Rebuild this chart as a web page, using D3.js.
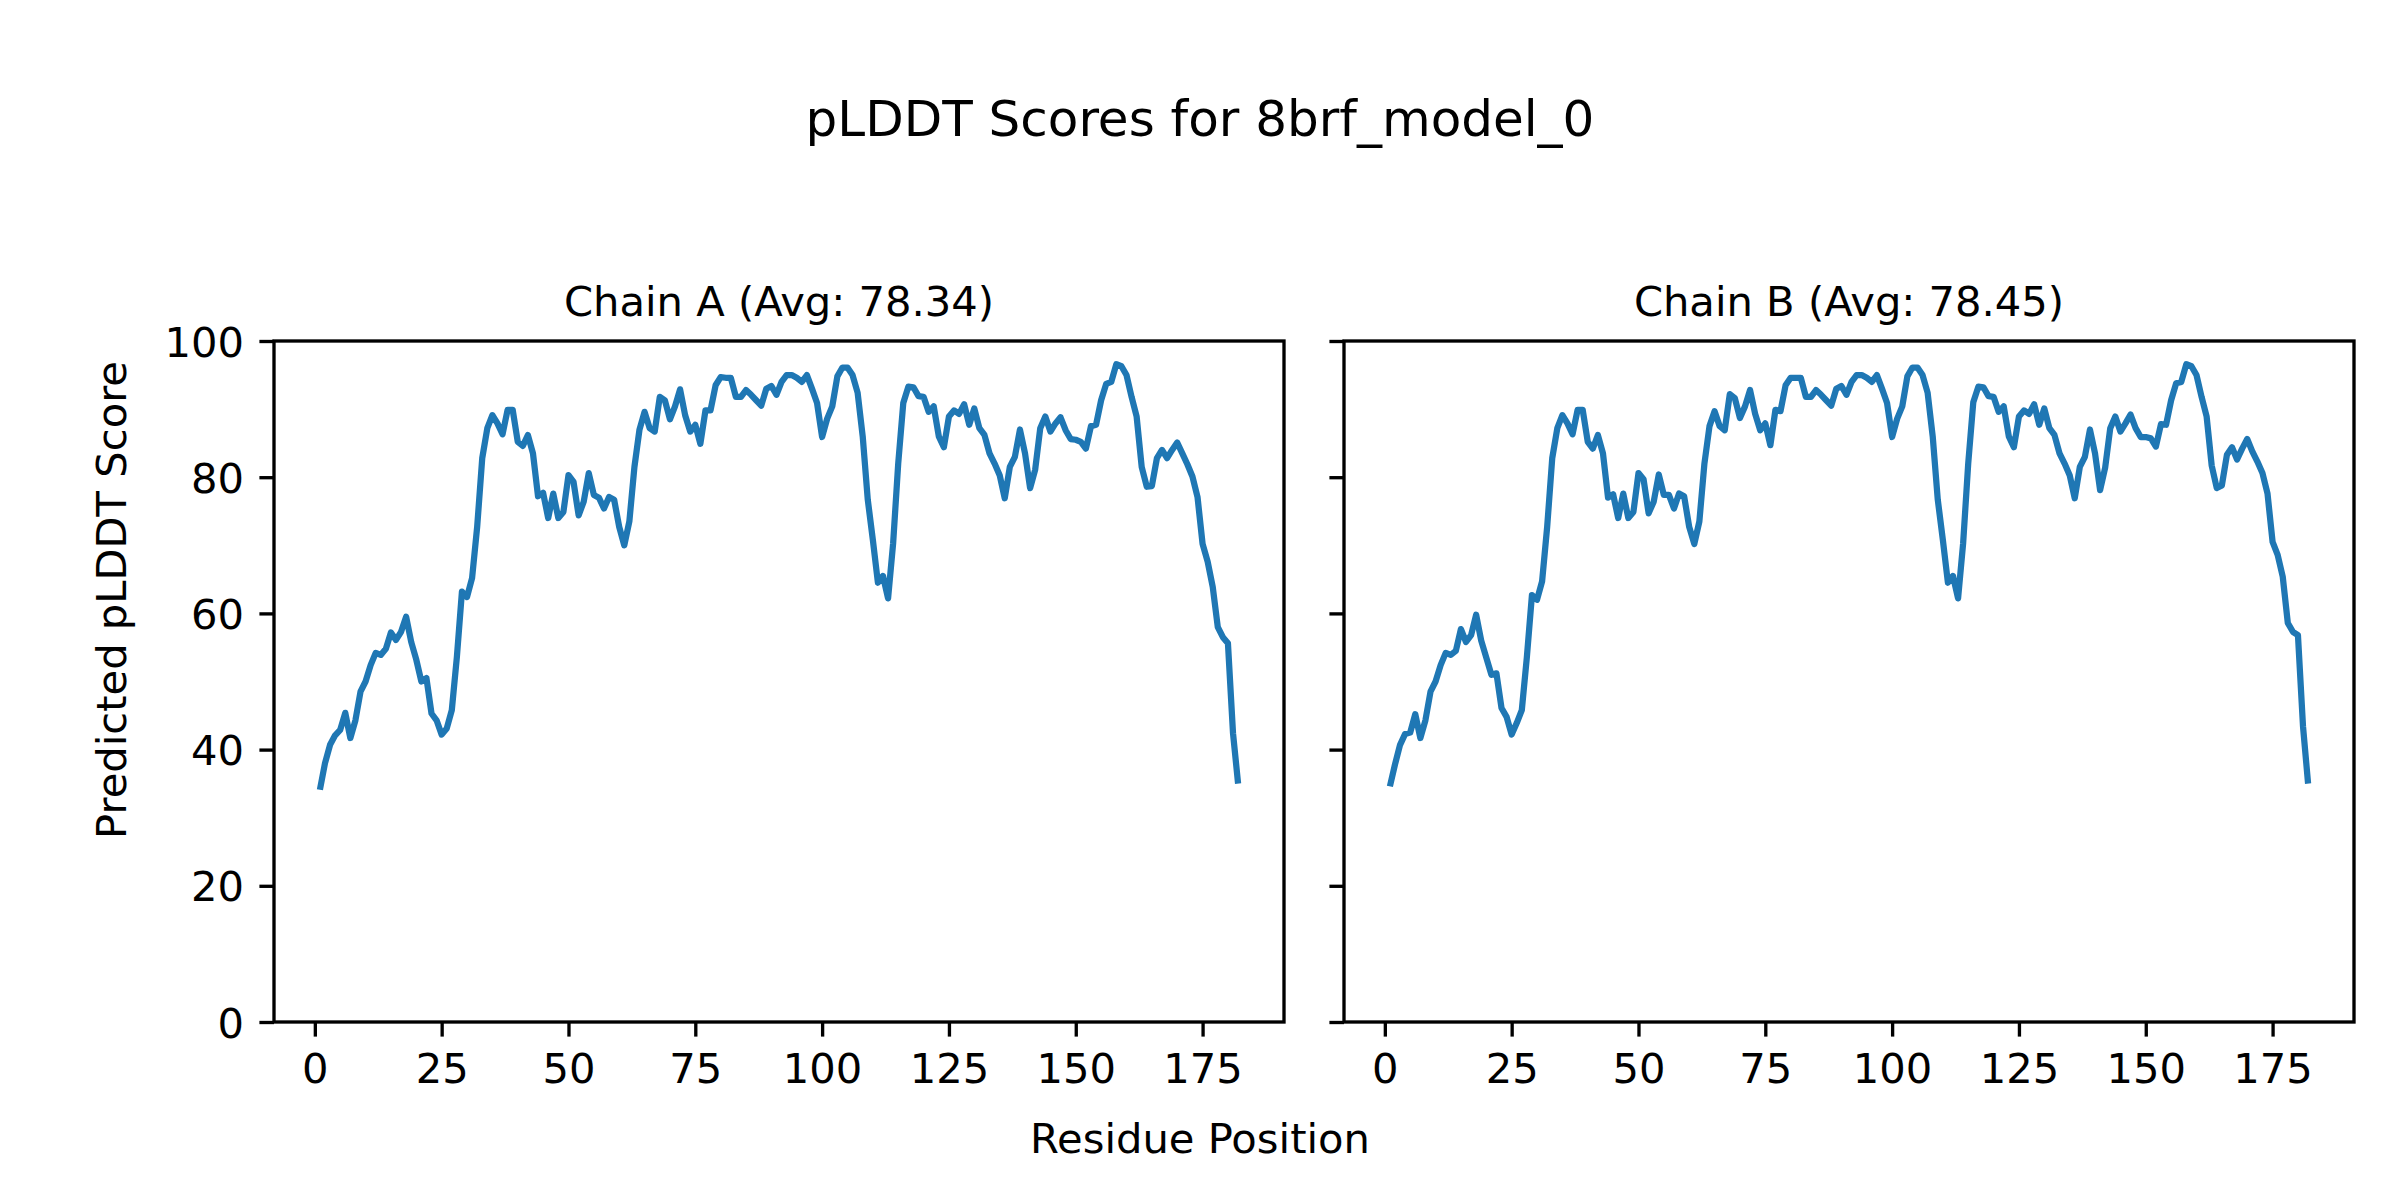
<!DOCTYPE html>
<html>
<head>
<meta charset="utf-8">
<script src="https://cdn.jsdelivr.net/npm/d3@7"></script>
<style>
  html, body { margin: 0; padding: 0; background: #fff; }
  svg { display: block; font-family: "DejaVu Sans", sans-serif; }
</style>
</head>
<body>
<svg id="chart" width="2400" height="1200"></svg>
<script>
// ---------------- data ----------------
const figureTitle = "pLDDT Scores for 8brf_model_0";
const xAxisLabel = "Residue Position";
const yAxisLabel = "Predicted pLDDT Score";
const chainNames = ["A", "B"];
const chainAverages = ["78.34", "78.45"];
const xTickValues = [0, 25, 50, 75, 100, 125, 150, 175];
const yTickValues = [0, 20, 40, 60, 80, 100];

const chainA = [
  34.1, 38.0, 40.7, 42.1, 42.9, 45.4, 41.7, 44.3, 48.5, 50.0,
  52.4, 54.2, 53.9, 54.8, 57.2, 56.1, 57.3, 59.5, 55.8, 53.2,
  50.0, 50.5, 45.3, 44.3, 42.2, 43.1, 45.8, 53.6, 63.2, 62.4,
  65.2, 72.7, 82.8, 87.2, 89.1, 87.9, 86.3, 89.9, 89.9, 85.2,
  84.6, 86.2, 83.5, 77.2, 77.7, 74.0, 77.6, 74.0, 74.9, 80.3,
  79.3, 74.4, 76.4, 80.6, 77.4, 77.0, 75.4, 77.1, 76.7, 72.7,
  70.0, 73.5, 81.5, 87.0, 89.6, 87.2, 86.7, 91.8, 91.3, 88.5,
  90.4, 92.9, 89.1, 86.7, 87.7, 84.9, 89.8, 89.8, 93.5, 94.7,
  94.6, 94.6, 91.8, 91.8, 92.8, 92.1, 91.3, 90.5, 93.0, 93.4,
  92.1, 94.0, 95.0, 95.0, 94.6, 94.0, 95.0, 93.0, 90.9, 85.9,
  88.6, 90.4, 94.8, 96.1, 96.1, 95.0, 92.4, 86.0, 76.7, 70.8,
  64.5, 65.5, 62.2, 70.3, 82.0, 90.9, 93.3, 93.2, 91.9, 91.8,
  89.6, 90.4, 86.0, 84.4, 88.9, 89.8, 89.3, 90.7, 87.7, 90.1,
  87.2, 86.2, 83.5, 82.0, 80.3, 76.9, 81.5, 83.0, 87.0, 83.5,
  78.4, 81.1, 87.2, 88.9, 86.7, 87.9, 88.8, 86.9, 85.6, 85.5,
  85.2, 84.2, 87.5, 87.7, 91.3, 93.7, 94.0, 96.6, 96.3, 95.0,
  91.8, 88.9, 81.5, 78.6, 78.7, 82.8, 84.0, 82.8, 84.0, 85.1,
  83.5, 81.9, 80.1, 77.1, 70.2, 67.6, 63.9, 58.0, 56.5, 55.6,
  42.4, 35.0
];

const chainB = [
  34.6, 37.8, 40.7, 42.3, 42.5, 45.2, 41.7, 44.3, 48.5, 50.0,
  52.4, 54.2, 53.9, 54.5, 57.7, 55.8, 56.8, 59.8, 56.0, 53.5,
  51.0, 51.2, 46.1, 44.8, 42.2, 43.9, 45.8, 53.6, 62.7, 62.0,
  64.7, 72.7, 82.8, 87.2, 89.1, 87.9, 86.3, 89.9, 89.9, 85.2,
  84.2, 86.2, 83.5, 77.0, 77.5, 74.0, 77.6, 74.0, 74.9, 80.6,
  79.7, 74.7, 76.4, 80.4, 77.4, 77.4, 75.4, 77.6, 77.2, 72.7,
  70.2, 73.5, 82.0, 87.5, 89.7, 87.5, 86.9, 92.2, 91.6, 88.7,
  90.4, 92.8, 89.3, 86.9, 87.9, 84.7, 89.9, 89.7, 93.5, 94.6,
  94.6, 94.6, 91.8, 91.8, 92.8, 92.1, 91.3, 90.5, 93.0, 93.4,
  92.1, 94.0, 95.0, 95.0, 94.6, 94.0, 95.0, 93.0, 90.9, 85.9,
  88.6, 90.4, 94.8, 96.1, 96.1, 95.0, 92.4, 86.0, 76.7, 70.8,
  64.5, 65.5, 62.2, 70.3, 82.0, 91.0, 93.3, 93.2, 91.9, 91.8,
  89.6, 90.4, 86.0, 84.4, 88.9, 89.8, 89.3, 90.7, 87.7, 90.1,
  87.2, 86.2, 83.5, 82.0, 80.3, 76.9, 81.5, 83.0, 87.0, 83.5,
  78.1, 81.4, 87.2, 88.9, 86.7, 87.9, 89.2, 87.2, 85.9, 85.9,
  85.7, 84.5, 87.8, 87.7, 91.3, 93.8, 94.0, 96.6, 96.3, 95.0,
  91.8, 88.9, 81.7, 78.4, 78.8, 83.3, 84.4, 82.6, 84.2, 85.6,
  83.8, 82.3, 80.6, 77.6, 70.5, 68.6, 65.4, 58.6, 57.3, 56.8,
  43.4, 35.0
];

const chainSeries = [chainA, chainB];

// ---------------- layout ----------------
const svg = d3.select("#chart");
const W = 2400, H = 1200;
const panelLefts = [274, 1344];
const panelWidth = 1010;
const panelTop = 341, panelBottom = 1022;
const lineColor = "#1f77b4";
const tickLen = 14.6;
const spineW = 3.33;
const tickFont = 41.67;

svg.append("rect").attr("width", W).attr("height", H).attr("fill", "#fff");

svg.append("text")
  .attr("x", 1200).attr("y", 136)
  .attr("text-anchor", "middle")
  .attr("font-size", 50)
  .attr("fill", "#000")
  .text(figureTitle);

svg.append("text")
  .attr("x", 1200).attr("y", 1153)
  .attr("text-anchor", "middle")
  .attr("font-size", tickFont)
  .attr("fill", "#000")
  .text(xAxisLabel);

svg.append("text")
  .attr("transform", "translate(126,600) rotate(-90)")
  .attr("text-anchor", "middle")
  .attr("font-size", tickFont)
  .attr("fill", "#000")
  .text(yAxisLabel);

chainSeries.forEach((vals, i) => {
  const left = panelLefts[i];
  const n = vals.length;
  const margin = (n - 1) * 0.05;
  const x = d3.scaleLinear().domain([1 - margin, n + margin]).range([left, left + panelWidth]);
  const y = d3.scaleLinear().domain([0, 100]).range([panelBottom, panelTop]);

  const g = svg.append("g");
  const clipId = "clip" + i;
  svg.append("clipPath").attr("id", clipId)
    .append("rect")
    .attr("x", left).attr("y", panelTop)
    .attr("width", panelWidth).attr("height", panelBottom - panelTop);

  // line
  const line = d3.line().x((d, k) => x(k + 1)).y(d => y(d));
  g.append("path")
    .datum(vals)
    .attr("clip-path", `url(#${clipId})`)
    .attr("fill", "none")
    .attr("stroke", lineColor)
    .attr("stroke-width", 6.25)
    .attr("stroke-linejoin", "round")
    .attr("stroke-linecap", "butt")
    .attr("d", line);

  // x axis
  const xAxis = d3.axisBottom(x).tickValues(xTickValues).tickSize(tickLen).tickSizeOuter(0).tickPadding(16.8);
  const gx = g.append("g").attr("transform", `translate(0,${panelBottom})`).call(xAxis);
  gx.select(".domain").remove();
  gx.selectAll(".tick line").attr("stroke", "#000").attr("stroke-width", spineW);
  gx.selectAll(".tick text").attr("font-size", tickFont).attr("font-family", "DejaVu Sans").attr("fill", "#000");

  // y axis
  const yAxis = d3.axisLeft(y).tickValues(yTickValues).tickSize(tickLen).tickSizeOuter(0).tickPadding(15.4);
  const gy = g.append("g").attr("transform", `translate(${left},0)`).call(yAxis);
  gy.select(".domain").remove();
  gy.selectAll(".tick line").attr("stroke", "#000").attr("stroke-width", spineW);
  gy.selectAll(".tick text").attr("font-size", tickFont).attr("font-family", "DejaVu Sans").attr("fill", "#000").attr("dy", "0.36em");
  if (i > 0) gy.selectAll(".tick text").remove();

  // spines
  g.append("rect")
    .attr("x", left).attr("y", panelTop)
    .attr("width", panelWidth).attr("height", panelBottom - panelTop)
    .attr("fill", "none").attr("stroke", "#000").attr("stroke-width", spineW);

  // panel title
  g.append("text")
    .attr("x", left + panelWidth / 2).attr("y", 316)
    .attr("text-anchor", "middle")
    .attr("font-size", tickFont)
    .attr("fill", "#000")
    .text(`Chain ${chainNames[i]} (Avg: ${chainAverages[i]})`);
});
</script>
</body>
</html>
